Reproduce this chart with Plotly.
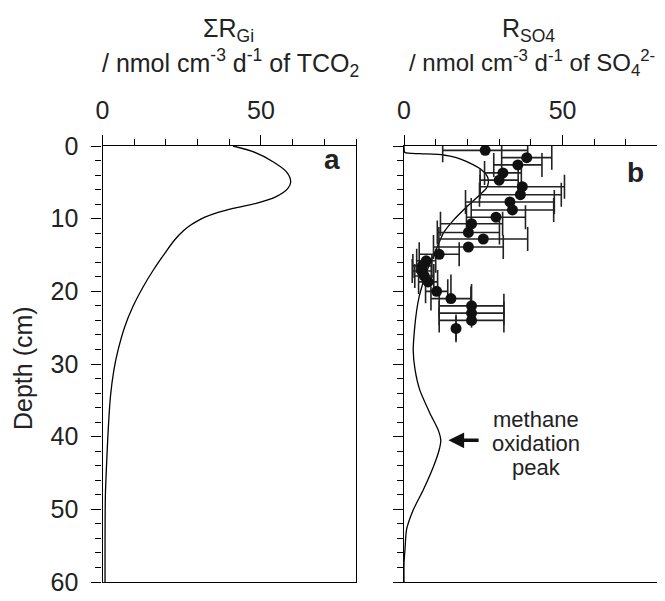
import plotly.graph_objects as go

# Panel a: modelled sum of organic matter degradation rates (TCO2)
a_depth = [0, 0.78, 2.16, 3.53, 4.9, 5.83, 6.97, 7.89, 8.58, 9.2, 9.8, 10.4, 11.0, 11.6, 12.9, 14.8,
           17.1, 19.4, 22.1, 24.9, 28.1, 30.8, 34.5, 39.1, 43.7, 48.3, 60]
a_rate = [41.2, 47.5, 53.8, 58.0, 59.4, 58.5, 54.8, 48.5, 41.2, 36.0, 32.3, 29.6, 27.4, 25.7, 22.8, 19.6,
          16.0, 12.8, 9.6, 7.0, 4.9, 3.6, 2.5, 1.8, 1.3, 0.9, 0.8]

# Panel b: modelled sulfate reduction rate
b_depth = [0, 0.9, 1.05, 1.24, 1.6, 2.16, 3.3, 4.2, 5.0, 5.8, 6.6, 8.35, 10.2, 12.0, 14.1, 16.1,
           18.0, 19.4, 20.7, 22.6, 25.3, 28.1, 30.8, 33.6, 36.8, 39.1, 40.5, 41.8, 44.1,
           47.3, 50.1, 52.8, 55.6, 57.4, 60]
b_rate = [0, 0.3, 5, 12.4, 16.5, 19.8, 24.5, 26.3, 26.6, 26.0, 24.2, 19.8, 15.6, 12.4, 10.3, 8.2,
          6.6, 5.6, 4.8, 4.0, 3.3, 2.9, 3.5, 5.0, 8.2, 10.8, 11.6, 11.1, 9.3,
          6.1, 2.9, 0.8, 0.3, 0.0, 0.0]

# Panel b: measured sulfate reduction rates
m_depth = [0.6, 1.6, 2.6, 3.7, 4.7, 5.6, 6.7, 7.7, 8.8, 9.8, 10.7, 11.9, 12.8, 13.9, 14.9,
           15.8, 16.5, 17.2, 17.9, 18.7, 20.0, 21.0, 22.0, 23.0, 24.0, 25.1]
m_rate = [25.6, 38.7, 35.9, 31.2, 30.0, 37.3, 36.7, 33.4, 34.2, 29.0, 21.3, 20.3, 25.0, 20.3, 11.1,
          7.0, 5.8, 5.6, 6.4, 7.6, 10.3, 14.8, 21.3, 21.3, 21.3, 16.4]
m_xerr = [13.4, 7.9, 7.6, 5.8, 6.0, 13.3, 12.9, 14.0, 13.0, 9.3, 9.8, 9.8, 14.0, 11.0, 6.3,
          3.0, 3.0, 3.0, 3.0, 3.0, 3.5, 6.3, 10.2, 10.2, 10.2, 0]
m_yerr_plus = [0] * 21 + [0, 3.0, 0, 0, 1.9]
m_yerr_minus = [0] * 21 + [3.3, 3.0, 0, 0, 1.9]

x_ticks = [0, 50]
y_ticks = [0, 10, 20, 30, 40, 50, 60]

FONT = "Liberation Sans, Arial, sans-serif"
OFF = 8                      # page body margin
W, H = 665 - OFF, 601 - OFF

def px(x):                   # page x -> paper fraction
    return (x - OFF) / W

def py(y):                   # page y -> paper fraction
    return 1 - (y - OFF) / H

fig = go.Figure()
fig.add_trace(go.Scatter(x=a_rate, y=a_depth, mode="lines", line=dict(color="black", width=1.3, shape="spline", smoothing=0.8),
                         xaxis="x", yaxis="y", showlegend=False))
fig.add_trace(go.Scatter(x=b_rate, y=b_depth, mode="lines", line=dict(color="black", width=1.3, shape="spline", smoothing=0.6),
                         xaxis="x2", yaxis="y2", showlegend=False))
fig.add_trace(go.Scatter(x=m_rate, y=m_depth, mode="markers", marker=dict(color="#111", size=11),
                         error_x=dict(type="data", array=m_xerr, color="#222", thickness=1.6, width=12),
                         error_y=dict(type="data", symmetric=False, array=m_yerr_plus, arrayminus=m_yerr_minus,
                                      color="#222", thickness=1.6, width=0),
                         xaxis="x2", yaxis="y2", showlegend=False))

def xax(dom, anchor):
    return dict(domain=dom, anchor=anchor, side="top", range=[0, 80], tickmode="array", tickvals=x_ticks,
                ticks="outside", ticklen=10, tickwidth=1.3, tickcolor="black", automargin=False,
                minor=dict(tick0=0, dtick=10, ticks="outside", ticklen=6, tickwidth=1.3, tickcolor="black"),
                showline=True, linecolor="black", linewidth=1.3, mirror=True, showgrid=False, zeroline=False,
                tickfont=dict(family=FONT, size=25, color="#222"), ticklabelstandoff=6)

def yax(dom, anchor, labels):
    return dict(domain=dom, anchor=anchor, range=[60, 0], tickmode="array", tickvals=y_ticks,
                ticks="outside", ticklen=10, tickwidth=1.3, tickcolor="black", showticklabels=labels,
                automargin=False,
                minor=dict(tick0=0, dtick=2, ticks="outside", ticklen=6, tickwidth=1.3, tickcolor="black"),
                showline=True, linecolor="black", linewidth=1.3, mirror=True, showgrid=False, zeroline=False,
                tickfont=dict(family=FONT, size=25, color="#222"), ticklabelstandoff=8)

ydom = [py(582), py(146)]
fig.update_layout(
    width=W, height=H, margin=dict(l=0, r=0, t=0, b=0, autoexpand=False),
    paper_bgcolor="white", plot_bgcolor="white",
    xaxis=xax([px(102.5), px(356)], "y"),
    yaxis=yax(ydom, "x", True),
    xaxis2=xax([px(404), px(657.7)], "y2"),
    yaxis2=yax(ydom, "x2", False),
    font=dict(family=FONT, color="#222"),
)

ann = [
    dict(text="Depth (cm)", x=px(23), y=py(368), textangle=-90, font=dict(size=25)),
    dict(text="ΣR<sub>Gi</sub>", x=px(228), y=py(30), font=dict(size=25)),
    dict(text="/ nmol cm<sup>-3</sup> d<sup>-1</sup> of TCO<sub>2</sub>", x=px(230), y=py(63), font=dict(size=25)),
    dict(text="R<sub>SO4</sub>", x=px(528), y=py(30), font=dict(size=25)),
    dict(text="/ nmol cm<sup>-3</sup> d<sup>-1</sup> of SO<sub>4</sub><sup>2-</sup>", x=px(532), y=py(63), font=dict(size=24)),
    dict(text="<b>a</b>", x=px(332), y=py(160), font=dict(size=28)),
    dict(text="<b>b</b>", x=px(635), y=py(172), font=dict(size=28)),
    dict(text="methane", x=px(536), y=py(419), font=dict(size=22)),
    dict(text="oxidation", x=px(536), y=py(443), font=dict(size=22)),
    dict(text="peak", x=px(536), y=py(467), font=dict(size=22)),
]
for a in ann:
    a.update(xref="paper", yref="paper", showarrow=False, xanchor="center", yanchor="middle")
    a["font"].update(family=FONT, color="#222")
    fig.add_annotation(**a)

fig.add_annotation(x=14.0, y=40.5, ax=24.0, ay=40.5, xref="x2", yref="y2", axref="x2", ayref="y2",
                   text="", showarrow=True, arrowhead=2, arrowsize=0.9, arrowwidth=3.5, arrowcolor="#111")

fig.write_html("out.html")
